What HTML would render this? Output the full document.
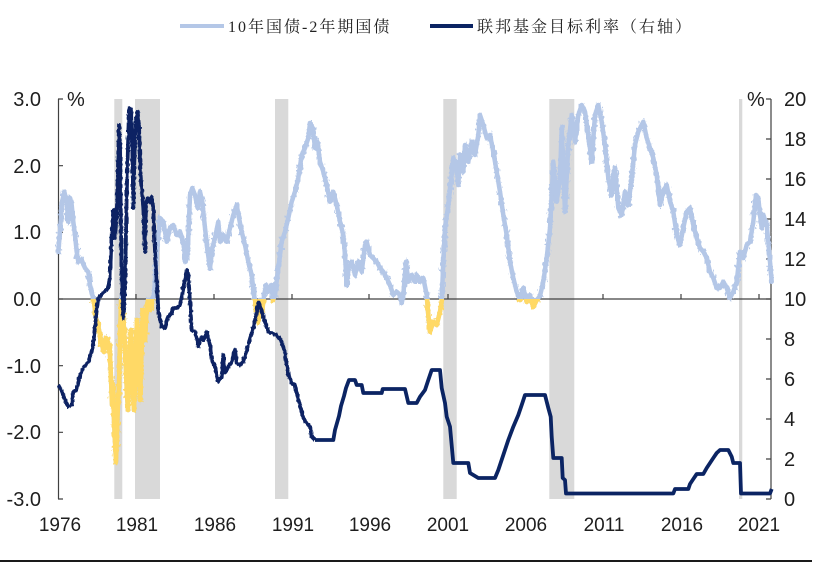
<!DOCTYPE html>
<html><head><meta charset="utf-8"><style>
html,body{margin:0;padding:0;background:#fff;}
svg{display:block;}
.ax{font-family:"Liberation Sans",Arial,sans-serif;font-size:20px;fill:#1e1e1e;}
.yr{font-family:"Liberation Sans",Arial,sans-serif;font-size:19px;fill:#1e1e1e;}
.lg{font-family:"Liberation Serif","Noto Serif CJK SC",serif;font-size:16px;fill:#222;letter-spacing:2px;}
</style></head><body>
<svg width="819" height="567" viewBox="0 0 819 567" xmlns="http://www.w3.org/2000/svg">
<defs>
<clipPath id="neg"><rect x="50" y="299" width="730" height="210"/></clipPath>
<filter id="rough" filterUnits="userSpaceOnUse" x="0" y="0" width="819" height="567">
<feTurbulence type="fractalNoise" baseFrequency="0.45 0.25" numOctaves="2" seed="3" result="n"/>
<feDisplacementMap in="SourceGraphic" in2="n" scale="7" xChannelSelector="R" yChannelSelector="G"/>
</filter>
<filter id="rough2" filterUnits="userSpaceOnUse" x="0" y="0" width="819" height="567">
<feTurbulence type="fractalNoise" baseFrequency="0.6 0.3" numOctaves="1" seed="9" result="n"/>
<feDisplacementMap in="SourceGraphic" in2="n" scale="3" xChannelSelector="R" yChannelSelector="G"/>
</filter>
</defs>
<!-- legend -->
<line x1="180" y1="26" x2="224" y2="26" stroke="#b4c7e7" stroke-width="4"/>
<text class="lg" x="228" y="32">10年国债-2年期国债</text>
<line x1="430" y1="26" x2="473" y2="26" stroke="#0b2463" stroke-width="4"/>
<text class="lg" x="477" y="32">联邦基金目标利率（右轴）</text>

<!-- recession shading -->
<g fill="#d9d9d9">
<rect x="114.3" y="99" width="8" height="400"/>
<rect x="135" y="99" width="25" height="400"/>
<rect x="275" y="99" width="13.3" height="400"/>
<rect x="443.3" y="99" width="13.4" height="400"/>
<rect x="549.3" y="99" width="25" height="400"/>
<rect x="739" y="99" width="3.3" height="400"/>
</g>

<!-- axes -->
<g stroke="#404040" stroke-width="1.2" fill="none">
<line x1="58.5" y1="99" x2="58.5" y2="499"/>
<line x1="771" y1="99" x2="771" y2="499"/>
<line x1="58" y1="299" x2="771" y2="299"/>
<path d="M58 99H63M58 165.7H63M58 232.3H63M58 299H63M58 365.7H63M58 432.3H63M58 499H63"/>
<path d="M766 99H771M766 139H771M766 179H771M766 219H771M766 259H771M766 299H771M766 339H771M766 379H771M766 419H771M766 459H771M766 499H771"/>
<path d="M136 294V299M214 294V299M292 294V299M369 294V299M448 294V299M525 294V299M603 294V299M681 294V299M759 294V299"/>
</g>

<!-- axis labels -->
<g class="ax" text-anchor="end">
<text x="41" y="106">3.0</text>
<text x="41" y="173">2.0</text>
<text x="41" y="239">1.0</text>
<text x="41" y="306">0.0</text>
<text x="41" y="373">-1.0</text>
<text x="41" y="439">-2.0</text>
<text x="41" y="506">-3.0</text>
</g>
<text class="ax" x="67" y="106">%</text>
<text class="ax" x="747" y="106">%</text>
<g class="ax">
<text x="784" y="106">20</text>
<text x="784" y="146">18</text>
<text x="784" y="186">16</text>
<text x="784" y="226">14</text>
<text x="784" y="266">12</text>
<text x="784" y="306">10</text>
<text x="784" y="346">8</text>
<text x="784" y="386">6</text>
<text x="784" y="426">4</text>
<text x="784" y="466">2</text>
<text x="784" y="506">0</text>
</g>
<g class="yr" text-anchor="middle">
<text x="60" y="531">1976</text>
<text x="137" y="531">1981</text>
<text x="215" y="531">1986</text>
<text x="293" y="531">1991</text>
<text x="370" y="531">1996</text>
<text x="448" y="531">2001</text>
<text x="526" y="531">2006</text>
<text x="604" y="531">2011</text>
<text x="682" y="531">2016</text>
<text x="759" y="531">2021</text>
</g>

<!-- spread series -->
<g>
<polyline id="sp" fill="none" stroke="#b4c7e7" stroke-width="4.5" stroke-linejoin="round" stroke-linecap="round" points="58.3,251.7 60,231.7 61.7,205 64.3,191.7 66.7,201.7 68.3,221.7 70,198 71.7,205 73.3,221.7 75,235 76.7,251.7 78.3,261.7 81.7,260 85,268 88.3,272 90,285 92.3,295 94,302 96,318 98,325 100,335 102,345 104,352 106,338 108,342 110,355 111,378 112,405 113,385 114,420 115,440 116,462 117,430 118,405 119,385 120,340 121,300 122,297 123,310 124,330 125,345 126,370 127,395 128,410 129,380 130,350 131,330 132,360 133,390 134,410 135,380 136,345 137,320 138,340 139,370 140,400 141,370 142,335 143,310 144,325 145,340 146,320 147,305 148,300 150,310 152,300 154,295 155,280 156.7,251.7 160,218 163.3,221.7 166.7,241.7 170,228 173.3,225 176.7,235 180,231.7 183.3,241.7 185.7,261.7 187.7,251.7 190,195 192.3,188 195,195 197.7,208 200,191.7 202.3,201.7 205,228 207.7,251.7 210,268 212.3,248 215,238 218.3,221.7 220,241.7 223.3,235 226.7,241.7 230,228 233.3,215 236.7,205 239,218 241.7,231.7 245,245 248.3,261.7 251.7,275 254,295 256,305 258,322 260,300 262,312 264,296 266,285 268.3,291.7 271.7,285 273,300 275,295 278.3,268 281.7,241.7 285,231.7 288.3,218 291.7,201.7 295,191.7 298.3,178 301.7,155 305,148 308.3,138 310,123 312.7,128 315,148 317.3,141.7 320,161.7 323.3,171.7 326.7,185 330,201.7 333.3,191.7 336.7,205 340,221.7 343.3,235 345,255 346.7,285 348.3,268 351.7,261.7 355,275 358.3,261.7 361.7,271.7 365,245 366.7,241.7 370,255 373.3,258.3 376.7,261.7 380,268 383.3,271.7 386.7,278 390,285 393.3,295 396.7,291.7 400,295 401.7,303 403.3,295 406,261.7 408.3,281.7 411.7,275 415,281.7 416.7,275 420,281.7 423.3,278 426.7,295 428.3,315 430,331.7 433.3,321.7 436.7,325 440,311.7 441.7,301.7 443.3,261.7 445,228 448.3,205 451.7,175 453.3,158 456.7,168 458.3,185 460,155 463.3,171.7 465,145 468.3,161.7 471.7,141.7 475,155 478.3,135 480,115 483.3,125 486.7,138 490,135 493.3,151.7 496.7,171.7 500,191.7 503.3,215 506.7,235 510,261.7 513.3,278 516.7,291.7 520,300 523.3,288 526.7,302 530,295 533.3,307 536.7,300 540,296 543.3,281.7 546.7,258 550,228 551.7,195 553.3,161.7 556.7,201.7 560,178 561.7,128 565,211.7 568.3,145 571.7,115 575,141.7 578.3,115 581.7,105 585,111.7 588.3,135 591.7,161.7 595,115 598.3,105 601.7,121.7 605,145 608.3,178 611.7,195 615,168 618.3,208 621.7,215 625,191.7 628.3,205 631.7,178 635,145 638.3,131.7 643.3,121.7 646.7,138 650,148 653.3,158 656.7,175 660,205 663.3,191.7 666.7,185 670,201.7 673.3,211.7 676.7,235 680,245 683.3,228 686.7,211.7 690,208 693.3,225 696.7,238 700,248 703.3,251.7 706.7,258 710,271.7 713.3,278 716.7,288 720,288 723.3,281.7 726.7,288 730,298 733.3,291.7 736.7,281.7 740,251.7 743.3,258 746.7,245 750,241.7 753.3,221.7 756,195 758.3,198 760,215 761.7,228 763.3,215 766.7,225 768.3,241.7 770,261.7 771.7,281.7"/>
<use href="#sp" filter="url(#rough)"/>
</g>
<g clip-path="url(#neg)">
<g id="yl" fill="none" stroke="#ffd966" stroke-width="4.5" stroke-linejoin="round" stroke-linecap="round">
<polyline points="92.3,295 94,302 96,318 98,325 100,335 102,345 104,352 106,338 108,342 110,355 111,378 112,405 113,385 114,420 115,440 116,462 117,430 118,405 119,385 120,340 121,300 122,297 123,310 124,330 125,345 126,370 127,395 128,410 129,380 130,350 131,330 132,360 133,390 134,410 135,380 136,345 137,320 138,340 139,370 140,400 141,370 142,335 143,310 144,325 145,340 146,320 147,305 148,300 150,310 152,300 154,295 155,280"/>
<polyline points="251.7,275 254,295 256,305 258,322 260,300 262,312 264,296 266,285 268.3,291.7 271.7,285 273,300 275,295 278.3,268"/>
<polyline points="423.3,278 426.7,295 428.3,315 430,331.7 433.3,321.7 436.7,325 440,311.7 441.7,301.7 443.3,261.7"/>
<polyline points="513.3,278 516.7,291.7 520,300 523.3,288 526.7,302 530,295 533.3,307 536.7,300 540,296 543.3,281.7"/>
</g>
<use href="#yl" filter="url(#rough)"/>
</g>

<!-- fed funds -->
<polyline fill="none" stroke="#0b2463" stroke-width="3.8" stroke-linejoin="round" filter="url(#rough2)" points="58.3,385 62,392 65,400 68.3,406.7 71.7,405 73.3,391.7 76.7,390 80,375 83.3,368 88.3,361.7 91.7,351.7 93.3,343 95,326.7 96.7,310 98.3,298.3 103,293 108,288 110,277 111,252 111.7,235 113.3,210 115,238 116.7,215 117.7,178 118.3,152 119,125 120,145 120.7,205 121.7,282 123.3,318 125,288 126.7,195 128.3,135 129,108 131,110 132.3,148 133.3,208 134.3,162 135.7,122 137.7,112 139,125 140,162 141,182 142.3,195 143.3,208 145,252 146,205 147.7,198 150,202 151.7,197 153.3,208 155,252 156.7,282 158.3,310 161.7,326.7 165,328 168.3,316.7 171.7,313 173.3,308 176.7,308 180,305 181.7,298 183.3,288 186.7,270 188.3,275 190,302 191.7,330 195,331.7 198.3,346.7 201.7,336.7 203.3,340 206.7,331.7 210,345 211.7,360 215,366.7 218.3,381.7 221.7,376.7 223.3,355 225,373 228.3,366.7 231.7,361.7 235,350 236.7,363 240,365 243.3,361.7 246.7,350 251.7,333 255,320 258.3,303 260,305 263.3,316.7 268.3,331.7 271.7,333 276.7,335 281.7,341.7 285,353 288.3,375 291.7,383 295,385 296.7,393 300,405 303.3,418 306.7,423 310,426.7 311.7,436.7 315,440"/>
<polyline fill="none" stroke="#0b2463" stroke-width="3.8" stroke-linejoin="round" points="315,440 333.3,440 335,430 337,423 339,416 341,406 344,396 346,388 349,380 355,380 356.7,385 361.7,385 363.3,393 381.7,393 382.7,389 405,389 408.3,403 416.7,403 420,396.7 425,390 428.3,380 431.7,370 440,370 441.7,388 445,403 446.7,416.7 450,426.7 453.3,463 468.3,463 470,473 478.3,478 495,478 498.3,470 503.3,455 508.3,440 513.3,426.7 518.3,415 521.7,405 525,395 545,395 548.3,408 550.7,416.7 551.7,436.7 553.3,458 561.7,458 562.7,478 565,480 566,493.5 673.3,493.5 675,489 688.3,489 690,484 693.3,479 696.7,474 703.3,474 706.7,468 710,463 713.3,458 716.7,453 720,450 728.3,450 731.7,456.7 733.3,463 740,463 741,493.5 770,493.5 771.7,489"/>

<!-- bottom rule -->
<line x1="0" y1="561" x2="812" y2="561" stroke="#1a1a1a" stroke-width="2"/>
</svg>
</body></html>
